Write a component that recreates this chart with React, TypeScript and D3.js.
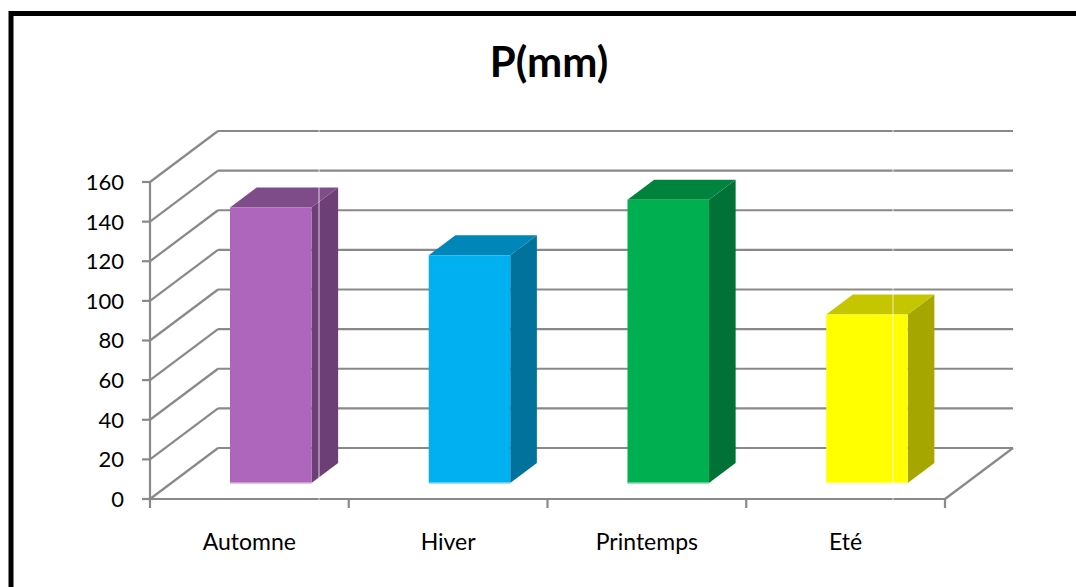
import React from "react";
import * as d3 from "d3";

// Seasonal precipitation, P (mm)
const seasons = ["Automne", "Hiver", "Printemps", "Eté"];
const precipitation = [139, 115, 143, 85];
const yTicks = [0, 20, 40, 60, 80, 100, 120, 140, 160];

// Face colours per bar: front, side, top
const frontColors = ["#AD66BB", "#00B0F0", "#00B050", "#FFFF00"];
const sideColors = ["#6E3F77", "#00729C", "#007236", "#A6A600"];
const topColors = ["#7F4C8A", "#0086B8", "#00833D", "#C5C500"];
const baseColors = ["#D6B0DE", "#7FD8F8", "#7FD8A8", "#FFFF99"];

const W = 1076;
const H = 587;

// Front plane of the plot box and the depth offset to the back wall
const FRONT_LEFT = 150;
const FRONT_RIGHT = 945;
const FLOOR_Y = 499;
const TOP_Y = 182;
const DEPTH_DX = 68;
const DEPTH_DY = -51;

// Depth span of the columns (fraction of full depth)
const BAR_F0 = 0.314;
const BAR_F1 = 0.706;
const BAR_WIDTH_FRAC = 0.41;

const GRID = "#898989";
const FONT = "Lato, 'Open Sans', sans-serif";

export default function App() {
  const x = d3
    .scaleBand<string>()
    .domain(seasons)
    .range([FRONT_LEFT, FRONT_RIGHT])
    .paddingInner(0)
    .paddingOuter(0);
  const y = d3.scaleLinear().domain([0, 160]).range([FLOOR_Y, TOP_Y]);

  const proj = (px: number, v: number, f: number): [number, number] => [
    px + f * DEPTH_DX,
    y(v) + f * DEPTH_DY,
  ];
  const pts = (arr: [number, number][]) => arr.map((p) => p.join(",")).join(" ");

  const bw = x.bandwidth();
  const catTicks = [...seasons.map((s) => x(s)!), FRONT_RIGHT];

  return (
    <svg
      width={W}
      height={H}
      style={{ position: "absolute", left: 0, top: 0, background: "#fff" }}
    >
      <rect x={0} y={0} width={W} height={H} fill="#fff" />
      {/* Chart frame */}
      <rect x={11} y={13.5} width={W + 40} height={H + 40} fill="none" stroke="#000" strokeWidth={5} />

      {/* Title */}
      <text
        x={549}
        y={77}
        textAnchor="middle"
        fontFamily={FONT}
        fontWeight="bold"
        fontSize={42}
        fill="#000"
      >
        P(mm)
      </text>

      {/* Back wall gridlines */}
      {yTicks.map((t) => {
        const a = proj(FRONT_LEFT, t, 1);
        const b = proj(FRONT_RIGHT, t, 1);
        return <line key={"bw" + t} x1={a[0]} y1={a[1]} x2={b[0]} y2={b[1]} stroke={GRID} strokeWidth={2.2} />;
      })}
      {/* Side wall gridlines */}
      {yTicks.map((t) => {
        const a = proj(FRONT_LEFT, t, 0);
        const b = proj(FRONT_LEFT, t, 1);
        return <line key={"sw" + t} x1={a[0]} y1={a[1]} x2={b[0]} y2={b[1]} stroke={GRID} strokeWidth={2.2} />;
      })}
      {/* Floor right edge */}
      {(() => {
        const a = proj(FRONT_RIGHT, 0, 0);
        const b = proj(FRONT_RIGHT, 0, 1);
        return <line x1={a[0]} y1={a[1]} x2={b[0]} y2={b[1]} stroke={GRID} strokeWidth={2.2} />;
      })()}

      {/* Value axis */}
      <line x1={FRONT_LEFT} y1={y(160)} x2={FRONT_LEFT} y2={y(0)} stroke={GRID} strokeWidth={2.2} />
      {yTicks.map((t) => (
        <g key={"yt" + t}>
          <line x1={FRONT_LEFT - 8} y1={y(t)} x2={FRONT_LEFT} y2={y(t)} stroke={GRID} strokeWidth={2.2} />
          <text
            x={124}
            y={y(t)}
            dy="0.36em"
            textAnchor="end"
            fontFamily={FONT}
            fontSize={22}
            fill="#000"
          >
            {t}
          </text>
        </g>
      ))}

      {/* Category axis */}
      <line x1={FRONT_LEFT} y1={FLOOR_Y} x2={FRONT_RIGHT} y2={FLOOR_Y} stroke={GRID} strokeWidth={2.2} />
      {catTicks.map((cx, i) => (
        <line key={"xt" + i} x1={cx} y1={FLOOR_Y} x2={cx} y2={FLOOR_Y + 9} stroke={GRID} strokeWidth={2.2} />
      ))}
      {seasons.map((s) => (
        <text
          key={"xl" + s}
          x={x(s)! + bw / 2}
          y={550}
          textAnchor="middle"
          fontFamily={FONT}
          fontSize={23}
          fill="#000"
        >
          {s}
        </text>
      ))}

      {/* Columns */}
      {seasons.map((s, i) => {
        const v = precipitation[i];
        const cx = x(s)! + bw / 2;
        const half = (bw * BAR_WIDTH_FRAC) / 2;
        const l = cx - half;
        const r = cx + half;
        const fBL = proj(l, 0, BAR_F0);
        const fBR = proj(r, 0, BAR_F0);
        const fTL = proj(l, v, BAR_F0);
        const fTR = proj(r, v, BAR_F0);
        const bTL = proj(l, v, BAR_F1);
        const bTR = proj(r, v, BAR_F1);
        const bBR = proj(r, 0, BAR_F1);
        return (
          <g key={"bar" + s}>
            <polygon points={pts([fBR, fTR, bTR, bBR])} fill={sideColors[i]} />
            <polygon points={pts([fTL, fTR, bTR, bTL])} fill={topColors[i]} />
            <polygon points={pts([fBL, fTL, fTR, fBR])} fill={frontColors[i]} />
            <line x1={fBL[0]} y1={fBL[1]} x2={fBR[0]} y2={fBR[1]} stroke={baseColors[i]} strokeWidth={1.5} />
          </g>
        );
      })}

      {/* Thin light seams crossing the plot */}
      {[319, 893].map((sx) => (
        <line key={"seam" + sx} x1={sx} y1={126} x2={sx} y2={500} stroke="#fff" strokeOpacity={0.75} strokeWidth={1} />
      ))}
    </svg>
  );
}
